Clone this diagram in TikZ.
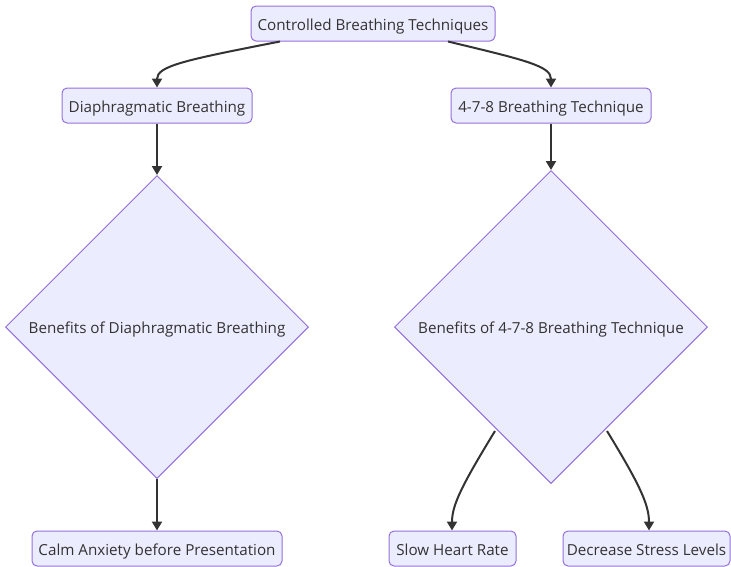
\documentclass[tikz,border=0pt]{standalone}
\usepackage{fontspec}
\setmainfont{Open Sans}
\usetikzlibrary{shapes.geometric,arrows.meta,calc}
\definecolor{boxfill}{HTML}{ECECFF}
\definecolor{boxline}{HTML}{9370DB}
\definecolor{ink}{HTML}{333333}
\tikzset{
  base/.style={fill=boxfill, draw=boxline, line width=1pt, text=ink,
    font=\fontsize{15.2}{18}\selectfont, inner sep=0pt,
    text height=13.8pt, text depth=0pt},
  stepbox/.style={base, rectangle, rounded corners=5pt, minimum height=35pt},
  choice/.style={base, diamond, aspect=1},
  link/.style={draw=ink, line width=2pt, -{Triangle[length=9pt,width=10pt]}}
}
\begin{document}
\begin{tikzpicture}[x=1pt,y=-1pt]
\useasboundingbox (0,0) rectangle (731,566);

% top level
\node[stepbox, minimum width=244pt] (cbt) at (373,23.5) {Controlled Breathing Techniques};

% techniques
\node[stepbox, minimum width=190pt] (dia) at (157,105.5) {Diaphragmatic Breathing};
\node[stepbox, minimum width=200pt] (fse) at (551,105.5) {4-7-8 Breathing Technique};

% benefit decisions
\node[choice, minimum size=303pt] (bdia) at (157,327) {Benefits of Diaphragmatic Breathing};
\node[choice, minimum size=313pt] (bfse) at (551,327) {Benefits of 4-7-8 Breathing Technique};

% outcomes
\node[stepbox, minimum width=250pt] (calm) at (157,548.5) {Calm Anxiety before Presentation};
\node[stepbox, minimum width=127pt] (slow) at (452.5,548.5) {Slow Heart Rate};
\node[stepbox, minimum width=167pt] (dec) at (646.5,548.5) {Decrease Stress Levels};

% connectors
\coordinate (cbtL) at ($(cbt.south)+(-93,0)$);
\coordinate (cbtR) at ($(cbt.south)+(75,0)$);
\draw[link] (cbtL) .. controls (185,60) and (157,66) .. (dia.north);
\draw[link] (cbtR) .. controls (525,60) and (551,66) .. (fse.north);
\draw[link] (dia.south) -- (bdia.north);
\draw[link] (fse.south) -- (bfse.north);
\draw[link] (bdia.south) -- (calm.north);

\coordinate (bfseL) at ($(bfse.south)+(-56,-53)$);
\coordinate (bfseR) at ($(bfse.south)+(56,-53)$);
\draw[link] (bfseL) .. controls (462,485) and (452,505) .. ([xshift=-0.5pt]slow.north);
\draw[link] (bfseR) .. controls (640,485) and (649,505) .. ([xshift=2.5pt]dec.north);
\end{tikzpicture}
\end{document}
